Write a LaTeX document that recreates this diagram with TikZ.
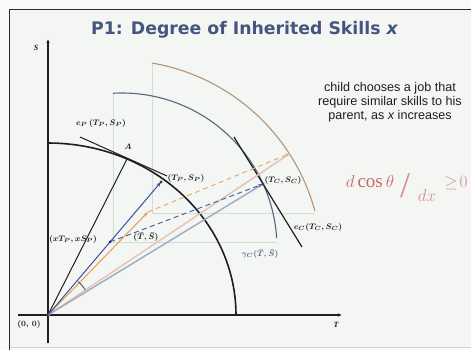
\documentclass[tikz,border=0pt]{standalone}
\usepackage{fontspec}
\setmainfont{Liberation Serif}
\setsansfont{Liberation Sans}
\newfontfamily\titlefont{DejaVu Sans}
\usetikzlibrary{arrows.meta,calc}
\definecolor{titleblue}{RGB}{68,86,128}
\definecolor{bgc}{RGB}{244,246,243}
\definecolor{framec}{RGB}{40,48,44}
\definecolor{midarc}{RGB}{92,100,130}
\definecolor{outarc}{RGB}{178,148,118}
\definecolor{rayblue}{RGB}{58,78,165}
\definecolor{orng}{RGB}{226,160,82}
\definecolor{dblue}{RGB}{78,102,168}
\definecolor{beigec}{RGB}{228,196,182}
\definecolor{lgblue}{RGB}{165,172,196}
\definecolor{faintc}{RGB}{214,219,216}
\definecolor{formc}{RGB}{200,105,105}
\definecolor{inkc}{RGB}{30,30,35}
\tikzset{
  axisline/.style={line width=1.3pt, draw=inkc, -{Latex[length=4pt,width=3.5pt]}},
  faintline/.style={draw=faintc, line width=0.6pt},
  lbl/.style={font=\fontsize{8}{9}\selectfont\boldmath, text=inkc, inner sep=0pt},
  dotnode/.style={circle, fill=#1, inner sep=0pt, minimum size=3.2pt},
  tipstyle/.style={-{Stealth[length=5pt,width=3.6pt]}},
  dashline/.style={dash pattern=on 5pt off 3.5pt},
}
\begin{document}
\begin{tikzpicture}[x=1pt,y=-1pt]
\useasboundingbox (0,0) rectangle (471,350);
\fill[white!96!gray] (0,0) rectangle (471,350);
\fill[bgc] (9.5,9.5) rectangle (471,347);
\draw[framec, line width=1.8pt] (9.5,352) -- (9.5,9.5) -- (475,9.5);
\draw[gray!35, line width=0.8pt] (9.5,347) -- (471,347);

% title and note
\node[font=\titlefont\bfseries\fontsize{17.3}{20}\selectfont, text=titleblue] (title) at (244.5,30) {P1: Degree of Inherited Skills {\itshape x}};
\node[font=\sffamily\fontsize{12.6}{14}\selectfont, text=inkc, align=center] (note) at (390,102) {child chooses a job that\\require similar skills to his\\parent, as {\itshape x} increases};

% formula
\node[font=\fontsize{19}{20}\selectfont, text=formc, inner sep=0pt] (fnum) at (370,182) {$d\cos\theta$};
\node[font=\fontsize{36}{36}\selectfont, text=formc!75, inner sep=0pt] (fslash) at (405,186) {/};
\node[font=\fontsize{19}{20}\selectfont, text=formc!75, inner sep=0pt] (fden) at (427,195) {$dx$};
\node[font=\fontsize{17}{18}\selectfont, text=formc!75, inner sep=0pt] (fgeq) at (456,183) {$\geq\!0$};

% key points
\coordinate (O) at (48,315);
\coordinate (Stop) at (48,39);
\coordinate (Sbot) at (48,343);
\coordinate (Tleft) at (18,315);
\coordinate (Tright) at (342,315);
\coordinate (A) at (127,159);
\coordinate (P) at (161,182);
\coordinate (xP) at ($(O)!0.55!(P)$);
\coordinate (Tbar) at (148,212);
\coordinate (C) at (263,184);
\coordinate (Q) at (290,153.5);
\coordinate (eP1) at (80,137);
\coordinate (eP2) at (167,176);
\coordinate (eC1) at (234,137);
\coordinate (eC2) at (302,247);

% faint construction lines
\draw[faintline] (113,93) -- (113,242) -- (277,242);
\draw[faintline] (152,63) -- (152,213) -- (315,213);

% axes
\draw[axisline] (Sbot) -- (Stop);
\draw[axisline] (Tleft) -- (Tright);

% curves
\draw[line width=1.1pt, outarc] plot[domain=15.2:80.3, samples=60] ({117.5+204.6*cos(\x)},{264.7-204.6*sin(\x)});
\draw[line width=1.1pt, midarc] plot[domain=3.7:93.3, samples=60] ({122+155*cos(\x)},{248-155*sin(\x)});
\draw[line width=1.6pt, inkc] plot[domain=0:90, samples=60] ({48+188*cos(\x)},{315-172*sin(\x)});

% tangent lines
\draw[line width=1pt, inkc] (eP1) -- (eP2);
\draw[line width=1.2pt, inkc] (eC1) -- (eC2);

% rays
\draw[line width=1.5pt, beigec] (O) -- (Q);
\draw[line width=1.5pt, lgblue] (O) -- (C);
\draw[line width=1pt, inkc] (O) -- (A);
\draw[line width=1pt, orng, tipstyle] (O) -- (Tbar);
\draw[line width=1pt, rayblue, tipstyle] (O) -- (P);
\draw[line width=1pt, orng!85, dashline, tipstyle] (Tbar) -- (Q);
\draw[line width=1pt, dblue, dashline, tipstyle] (xP) -- (C);

% angle mark
\draw[line width=0.9pt, inkc!75] plot[domain=34:48, samples=20] ({48+45*cos(\x)},{315-45*sin(\x)});

% dots
\node[dotnode=rayblue!70!black] (dotP) at (P) {};
\node[dotnode=rayblue!70!black] (dotxP) at (xP) {};
\node[dotnode=rayblue!70!black] (dotC) at (C) {};

% labels
\node[lbl, font=\fontsize{8}{9}\selectfont\bfseries\itshape] (labS) at (36,48) {S};
\node[lbl, font=\fontsize{8}{9}\selectfont\bfseries\itshape] (labT) at (336,325) {T};
\node[lbl] (lab00) at (29,324) {$(0,\,0)$};
\node[lbl] (labeP) at (101,123) {$e_P\,(T_P,S_P)$};
\node[lbl] (labA) at (128,147) {$A$};
\node[lbl] (labP) at (186,178) {$(T_P,S_P)$};
\node[lbl] (labxP) at (73,239) {$(xT_P,xS_P)$};
\node[lbl] (labTbar) at (146,237) {$(\bar T,\bar S)$};
\node[lbl] (labC) at (283,180) {$(T_C,S_C)$};
\node[lbl] (labeC) at (318,227) {$e_C(T_C,S_C)$};
\node[lbl, text=midarc] (labgam) at (260,254) {$\gamma_C(\bar T,\bar S)$};
\end{tikzpicture}
\end{document}
